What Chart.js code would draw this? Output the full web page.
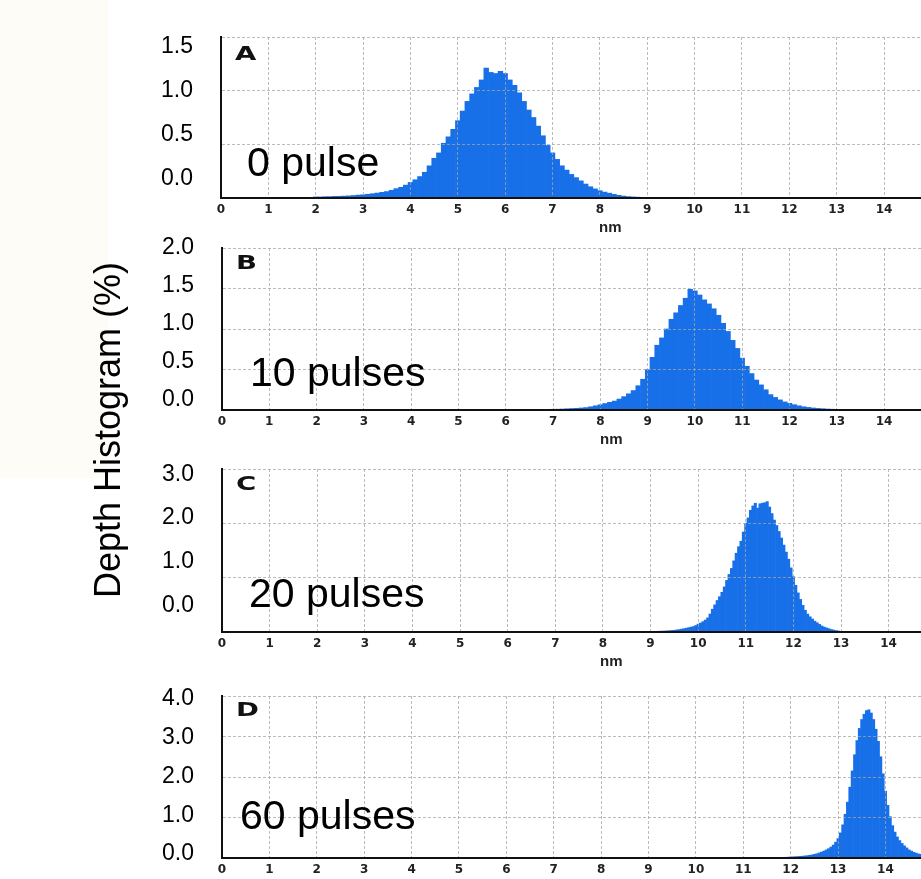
<!DOCTYPE html>
<html>
<head>
<meta charset="utf-8">
<script src="https://cdn.jsdelivr.net/npm/chart.js@4.4.1/dist/chart.umd.min.js"></script>
<style>
  html, body { margin: 0; padding: 0; background: #fff; }
  #wrap { position: relative; width: 921px; height: 879px; overflow: hidden; background: #fff; }
  #wrap canvas { position: absolute; left: 0; }
  .tint { position: absolute; left: 0; top: 0; width: 108px; height: 478px; background: #fefcf6; }
  .ann { position: absolute; white-space: nowrap; line-height: 1; color: #000;
         font-family: 'Liberation Sans', Arial, sans-serif; }
  .letter { font-family: 'DejaVu Sans', sans-serif; font-weight: bold; font-size: 19px;
            transform: scaleX(1.45); transform-origin: 0 0; color: #111; }
  .pulse { font-size: 41px; }
  .nm { font-weight: bold; font-size: 15px; color: #222; }
  .ytitle { font-size: 36px; width: 400px; height: 36px; text-align: center;
            transform: rotate(-90deg); transform-origin: 50% 50%; }
</style>
</head>
<body>
<div id="wrap"><div class="tint"></div></div>
<script>
// ---------------- data ----------------
// x-axis tick values (nm)
const xTicks = [0, 1, 2, 3, 4, 5, 6, 7, 8, 9, 10, 11, 12, 13, 14];

// y tick labels of each panel (Depth Histogram, %)
const yLabelsA = [0, 0.5, 1.0, 1.5];
const yLabelsB = [0, 0.5, 1.0, 1.5, 2.0];
const yLabelsC = [0, 1.0, 2.0, 3.0];
const yLabelsD = [0, 1.0, 2.0, 3.0, 4.0];

// Panel A: 0 pulse — bins of 0.1 nm starting at 2.0 nm
const binStartA = 2.0, binWidthA = 0.1;
const depthA = [
  0.010,0.010,0.012,0.013,0.015,0.016,0.018,0.020,0.023,0.027,
  0.030,0.035,0.040,0.046,0.053,0.060,0.072,0.087,0.100,0.120,
  0.145,0.170,0.200,0.240,0.300,0.370,0.420,0.510,0.570,0.640,
  0.720,0.810,0.900,0.970,1.030,1.100,1.210,1.170,1.160,1.180,
  1.160,1.100,1.050,0.980,0.900,0.820,0.750,0.670,0.580,0.490,
  0.420,0.360,0.300,0.260,0.220,0.190,0.160,0.130,0.105,0.085,
  0.068,0.055,0.045,0.034,0.025,0.018,0.013,0.010,0.008,0.006,
  0.004
];

// Panel B: 10 pulses — bins of 0.1 nm starting at 6.5 nm
const binStartB = 6.5, binWidthB = 0.1;
const depthB = [
  0.006,0.006,0.007,0.008,0.008,
  0.009,0.010,0.012,0.015,0.018,0.021,0.025,0.030,0.040,0.052,
  0.065,0.080,0.095,0.110,0.135,0.165,0.200,0.240,0.300,0.380,
  0.500,0.650,0.800,0.890,1.000,1.120,1.200,1.290,1.380,1.490,
  1.470,1.420,1.360,1.310,1.250,1.170,1.070,0.970,0.860,0.760,
  0.640,0.540,0.450,0.370,0.310,0.250,0.190,0.155,0.125,0.100,
  0.083,0.066,0.052,0.040,0.032,0.025,0.020,0.016,0.012,0.010,
  0.008,0.005,0.003
];

// Panel C: 20 pulses — bins of 0.05 nm starting at 9.0 nm
const binStartC = 9.0, binWidthC = 0.05;
const depthC = [
  0.010,0.011,0.012,0.013,0.015,0.016,0.018,0.021,0.024,0.028,
  0.032,0.038,0.045,0.052,0.060,0.070,0.080,0.090,0.100,0.120,
  0.145,0.165,0.190,0.220,0.260,0.330,0.420,0.500,0.580,0.650,
  0.730,0.830,0.950,1.060,1.170,1.310,1.450,1.570,1.670,1.840,
  2.000,2.100,2.240,2.320,2.370,2.280,2.360,2.370,2.380,2.400,
  2.300,2.180,2.060,1.960,1.850,1.730,1.600,1.470,1.340,1.180,
  1.020,0.860,0.720,0.600,0.490,0.400,0.330,0.280,0.240,0.200,
  0.170,0.140,0.110,0.090,0.075,0.060,0.045,0.035,0.025,0.018,
  0.012,0.008,0.005
];

// Panel D: 60 pulses — bins of 0.05 nm starting at 11.5 nm
const binStartD = 11.5, binWidthD = 0.05;
const depthD = [
  0.008,0.008,0.009,0.010,0.011,0.012,0.014,0.016,0.018,0.021,
  0.025,0.028,0.032,0.036,0.040,0.045,0.051,0.058,0.066,0.077,
  0.090,0.105,0.125,0.145,0.170,0.200,0.230,0.270,0.320,0.390,
  0.480,0.620,0.820,1.080,1.380,1.750,2.150,2.550,2.900,3.200,
  3.420,3.550,3.640,3.660,3.580,3.420,3.180,2.880,2.500,2.080,
  1.650,1.300,1.020,0.800,0.640,0.520,0.430,0.360,0.300,0.250,
  0.200,0.170,0.140,0.120,0.100,0.090,0.080
];

const panelLetters = ['A', 'B', 'C', 'D'];
const pulseLabels = ['0 pulse', '10 pulses', '20 pulses', '60 pulses'];
const yTitle = 'Depth Histogram (%)';
const xTitle = 'nm';

// ---------------- layout / style ----------------
const BLUE = '#1870e8';
const GRID = 'rgba(165,165,165,0.75)';
const PAD = 28;       // room above / below each plot area inside its canvas
const LBL_GAP = 28;   // gap between y tick labels and the plot's left border

const panels = [
  { values: depthA, start: binStartA, bin: binWidthA, labels: yLabelsA,
    top: 37, bottom: 198, left: 221, xMax: 14.78, yMax: 1.5, yStep: 0.5,
    lblMin: -0.2216, lblMax: 1.608,
    letterPos: [235, 46], pulsePos: [247, 177], nmPos: [610, 228] },
  { values: depthB, start: binStartB, bin: binWidthB, labels: yLabelsB,
    top: 248, bottom: 410, left: 222, xMax: 14.78, yMax: 2.0, yStep: 0.5,
    lblMin: -0.1386, lblMax: 2.0,
    letterPos: [236, 255], pulsePos: [250, 387], nmPos: [611, 440] },
  { values: depthC, start: binStartC, bin: binWidthC, labels: yLabelsC,
    top: 469, bottom: 632, left: 222, xMax: 14.68, yMax: 3.0, yStep: 1.0,
    lblMin: -0.6057, lblMax: 3.121,
    letterPos: [236, 476], pulsePos: [249, 608], nmPos: [611, 662] },
  { values: depthD, start: binStartD, bin: binWidthD, labels: yLabelsD,
    top: 696, bottom: 858, left: 222, xMax: 14.75, yMax: 4.0, yStep: 1.0,
    lblMin: -0.103, lblMax: 4.072,
    letterPos: [236, 702], pulsePos: [240, 830], nmPos: null }
];

const wrap = document.getElementById('wrap');

function addText(cls, text, left, top) {
  const d = document.createElement('div');
  d.className = 'ann ' + cls;
  d.textContent = text;
  d.style.left = left + 'px';
  d.style.top = top + 'px';
  wrap.appendChild(d);
  return d;
}

panels.forEach((p, k) => {
  const cv = document.createElement('canvas');
  const h = p.bottom - p.top + PAD * 2;
  cv.width = 921; cv.height = h;
  cv.style.width = '921px'; cv.style.height = h + 'px';
  cv.style.top = (p.top - PAD) + 'px';
  wrap.appendChild(cv);

  const pts = p.values.map((v, i) => ({ x: +(p.start + i * p.bin).toFixed(3), y: v }));

  new Chart(cv, {
    type: 'bar',
    data: { datasets: [{ data: pts, backgroundColor: BLUE, borderWidth: 0,
                         barPercentage: 1.0, categoryPercentage: 1.0 }] },
    options: {
      responsive: false, animation: false, devicePixelRatio: 1,
      layout: { padding: { top: PAD, bottom: 0, left: 0, right: 0 } },
      plugins: { legend: { display: false }, tooltip: { enabled: false }, title: { display: false } },
      scales: {
        x: {
          type: 'linear', min: 0, max: p.xMax, offset: false,
          afterBuildTicks: s => { s.ticks = xTicks.map(v => ({ value: v })); },
          afterFit: s => { s.height = PAD; },
          ticks: { font: { family: "'DejaVu Sans', sans-serif", weight: 'bold', size: 12 },
                   color: '#222', padding: 5, maxRotation: 0, autoSkip: false },
          grid: { color: GRID, lineWidth: 1, drawTicks: false, offset: false, z: 1 },
          border: { display: true, color: '#111', width: 2, dash: [3, 2], z: 2 }
        },
        y: {
          type: 'linear', position: 'left', weight: 0, min: 0, max: p.yMax,
          ticks: { display: false, stepSize: p.yStep },
          afterFit: s => { s.width = LBL_GAP; },
          grid: { color: GRID, lineWidth: 1, drawTicks: false, z: 1 },
          border: { display: true, color: '#111', width: 2, dash: [3, 2], z: 2 }
        },
        yl: {
          type: 'linear', position: 'left', weight: 1, min: p.lblMin, max: p.lblMax,
          afterBuildTicks: s => { s.ticks = p.labels.map(v => ({ value: v })); },
          afterFit: s => { s.width = p.left - LBL_GAP; },
          grid: { display: false, drawTicks: false },
          border: { display: false },
          ticks: { font: { family: "'Liberation Sans', Arial, sans-serif", size: 23 },
                   color: '#000', padding: 0, autoSkip: false,
                   callback: v => Number(v).toFixed(1) }
        }
      }
    }
  });

  // panel letter (cap top at letterPos[1])
  addText('letter', panelLetters[k], p.letterPos[0], p.letterPos[1] - 2);
  // pulse annotation (baseline at pulsePos[1])
  addText('pulse', pulseLabels[k], p.pulsePos[0], Math.round(p.pulsePos[1] - 0.8465 * 41));
  // x title
  if (p.nmPos) addText('nm', xTitle, p.nmPos[0] - 11, p.nmPos[1] - 9);
});

// rotated y title, centred at (108, 430)
addText('ytitle', yTitle, 108 - 200, 430 - 18);
</script>
</body>
</html>
